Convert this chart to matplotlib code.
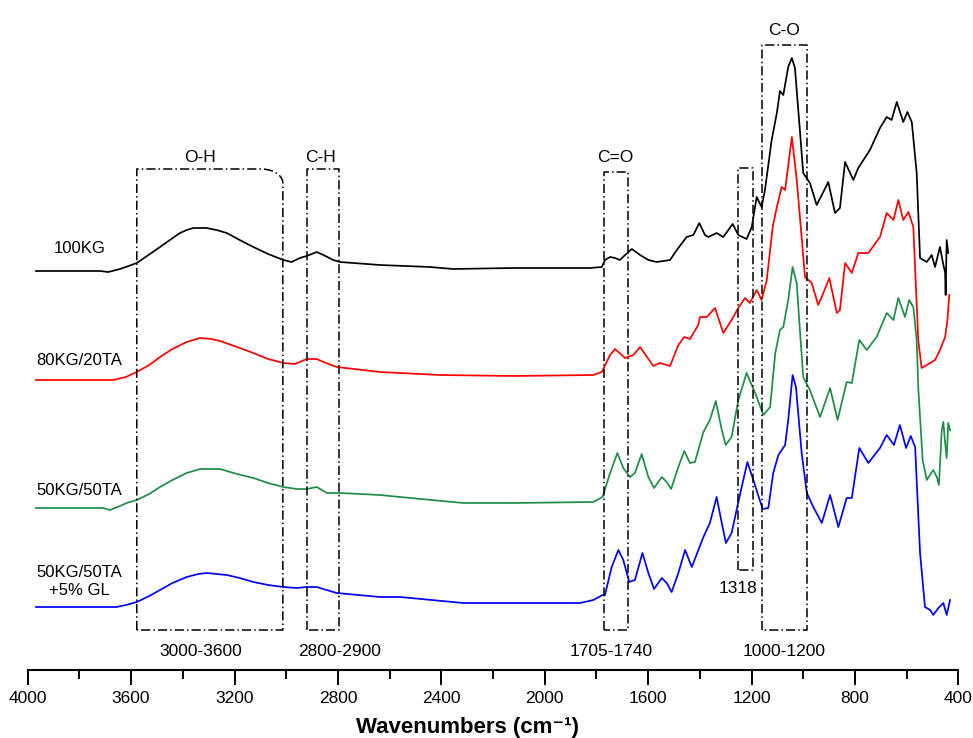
import numpy as np
import matplotlib.pyplot as plt

plt.rcParams['font.family'] = ['Liberation Sans', 'DejaVu Sans']

# FTIR spectra: wavenumber (cm-1) and stacked absorbance (a.u.)
kg100_wn = [3968, 3720, 3688, 3643, 3610, 3578, 3533, 3488, 3450, 3411, 3385, 3359, 3308, 3270,
            3230, 3180, 3127, 3070, 3011, 2979, 2947,
            2921, 2882, 2856, 2818, 2792, 2637, 2444, 2354, 2121, 1889, 1825, 1779, 1767, 1747,
            1728, 1709, 1689, 1663, 1631, 1599, 1567, 1515, 1489, 1451, 1425, 1402, 1380, 1367,
            1335, 1309, 1273, 1251, 1219, 1199, 1180, 1161, 1148, 1122, 1102, 1090, 1077, 1058,
            1044, 1032, 1012, 1000, 974, 948, 928, 903, 877, 858, 838, 806, 787, 742, 703, 677,
            658, 638, 613, 597, 580, 561, 548, 522, 503, 490, 471, 460, 451, 449, 445, 439]
kg100_abs = [399, 399, 398, 401, 404, 407, 415, 423, 430, 437, 440, 442, 442, 440,
             437, 430, 423, 416, 410, 408, 412,
             414, 418, 415, 410, 408, 405, 403, 401, 402, 402, 402, 403, 410, 413,
             412, 410, 415, 421, 415, 410, 408, 410, 420, 433, 435, 447, 435, 433,
             437, 433, 446, 435, 431, 443, 473, 463, 480, 530, 557, 579, 575, 603,
             612, 602, 537, 497, 487, 465, 475, 488, 457, 462, 508, 490, 502, 520, 542, 553,
             550, 568, 548, 558, 548, 497, 412, 408, 415, 403, 423, 408, 397, 375, 430, 417]

kg80_ta20_wn = [3968, 3669, 3620, 3578, 3530, 3488, 3440, 3385, 3333, 3290, 3256, 3190, 3127,
                3070, 3011, 2966, 2921, 2882, 2856,
                2805, 2637, 2560, 2405, 2121, 1812, 1779, 1747, 1728, 1689, 1657, 1631, 1580,
                1554, 1515, 1483, 1460, 1438, 1406, 1399, 1373, 1341, 1309, 1277, 1251, 1225,
                1206, 1180, 1161, 1141, 1118, 1102, 1083, 1070, 1044, 1025, 993, 967, 942, 922,
                899, 870, 858, 838, 812, 787, 748, 703, 677, 651, 632, 613, 593, 574, 555, 542,
                522, 490, 471, 451, 442, 435]
kg80_ta20_abs = [290, 290, 293, 298, 305, 313, 321, 328, 332, 331, 329, 323, 317,
                 311, 307, 306, 311, 311, 308,
                 303, 298, 297, 295, 294, 295, 298, 315, 321, 312, 315, 323, 304,
                 307, 304, 325, 333, 331, 345, 353, 353, 362, 337, 350, 362, 372,
                 367, 380, 370, 390, 443, 463, 483, 480, 533, 490, 393, 387, 365, 377,
                 392, 357, 360, 407, 397, 417, 417, 433, 457, 450, 470, 450, 458, 443, 330, 302,
                 305, 310, 320, 333, 350, 375]

kg50_ta50_wn = [3968, 3708, 3682, 3643, 3617, 3578, 3530, 3488, 3440, 3385, 3333, 3256, 3190,
                3127, 3070, 3011, 2959,
                2921, 2882, 2843, 2792, 2637, 2560, 2315, 2121, 1812, 1776, 1747, 1719, 1696,
                1670, 1651, 1625, 1599, 1577, 1547, 1528, 1511, 1483, 1460, 1438, 1419, 1386,
                1361, 1338, 1315, 1300, 1277, 1251, 1219, 1186, 1154, 1128, 1108, 1090, 1077,
                1058, 1041, 1025, 1012, 1000, 974, 935, 896, 867, 832, 812, 783, 754, 716, 677,
                651, 632, 606, 590, 574, 561, 555, 538, 522, 497, 483, 475, 464, 458, 451, 445,
                439, 432]
kg50_ta50_abs = [162, 162, 160, 164, 167, 170, 176, 183, 190, 197, 201, 201, 196,
                 192, 187, 183, 181,
                 181, 183, 177, 177, 175, 173, 167, 167, 168, 173, 197, 217, 202,
                 193, 197, 216, 193, 182, 193, 188, 181, 203, 219, 207, 208, 238,
                 250, 269, 240, 225, 233, 270, 297, 277, 255, 263, 317, 340, 343,
                 370, 403, 387, 337, 293, 280, 253, 282, 250, 288, 287, 330, 320, 333, 357,
                 350, 372, 353, 370, 363, 330, 283, 210, 190, 200, 193, 185, 240, 248, 227, 212,
                 247, 240]

kg50_ta50_gl_wn = [3968, 3656, 3620, 3578, 3530, 3488, 3440, 3385, 3340, 3308, 3230, 3180, 3127,
                   3070, 3011, 2959, 2921, 2882, 2805,
                   2637, 2560, 2315, 1863, 1812, 1776, 1767, 1741, 1715, 1696, 1673, 1651, 1622,
                   1599, 1577, 1547, 1528, 1509, 1483, 1457, 1431, 1386, 1361, 1335, 1315, 1299,
                   1277, 1251, 1216, 1193, 1157, 1135, 1116, 1096, 1070, 1058, 1041, 1028, 1006,
                   986, 961, 928, 896, 864, 832, 812, 783, 748, 703, 677, 649, 626, 602, 584, 567,
                   548, 529, 509, 497, 477, 458, 445, 432]
kg50_ta50_gl_abs = [63, 63, 65, 68, 74, 80, 87, 93, 96, 97, 95, 92, 88,
                    85, 83, 82, 83, 83, 77,
                    73, 73, 67, 67, 70, 75, 75, 103, 120, 110, 88, 90, 117,
                    97, 81, 92, 87, 78, 97, 120, 103, 133, 147, 173, 147, 127,
                    137, 168, 208, 190, 161, 162, 197, 215, 225, 250, 295, 283, 217,
                    177, 163, 147, 175, 143, 172, 172, 222, 207, 222, 235, 225, 245, 222, 234, 223,
                    117, 63, 60, 55, 62, 67, 55, 70]

sample_names = ['100KG', '80KG/20TA', '50KG/50TA', '50KG/50TA\n+5% GL']
sample_colors = ['black', '#ff0000', '#1f8c48', '#0000ff']
label_heights = [422, 310, 180, 89]

# marked bands: (left wn, right wn, bottom, top), top label, bottom label
band_edges = [(3578, 3013, 40, 501), (2921, 2795, 40, 501), (1771, 1679, 40, 498),
              (1253, 1195, 100, 502), (1158, 986, 40, 625)]
band_names = ['O-H', 'C-H', 'C=O', '', 'C-O']
band_ranges = ['3000-3600', '2800-2900', '1705-1740', '1318', '1000-1200']
band_name_pos = [(3333, 513), (2869, 513), (1728, 513), None, (1074, 640)]
band_range_pos = [(3329, 19), (2795, 19), (1741, 19), (1251, 82), (1073, 19)]


def draw_band(ax, x0, x1, y0, y1, rounded=False):
    ls = (0, (6, 2, 1, 2))
    if rounded:
        rx, ry = 85, 14
        t = np.linspace(0, np.pi / 2, 20)
        arc_x = (x1 + rx) - rx * np.sin(t)
        arc_y = (y1 - ry) + ry * np.cos(t)
        xs = np.concatenate([[x0, x0], arc_x, [x1, x0]])
        ys = np.concatenate([[y0, y1], arc_y, [y0, y0]])
    else:
        xs = [x0, x0, x1, x1, x0]
        ys = [y0, y1, y1, y0, y0]
    ax.plot(xs, ys, color='black', lw=1.1, ls=ls)


fig = plt.figure(figsize=(9.73, 7.38), dpi=100)
ax = fig.add_axes([0.02847, 0.09214, 0.95643, 0.90786])

spectra = [(kg100_wn, kg100_abs), (kg80_ta20_wn, kg80_ta20_abs),
           (kg50_ta50_wn, kg50_ta50_abs), (kg50_ta50_gl_wn, kg50_ta50_gl_abs)]
for (wn, ab), color in zip(spectra, sample_colors):
    ax.plot(wn, ab, color=color, lw=1.25)

for name, h in zip(sample_names, label_heights):
    ax.text(3800, h, name, ha='center', va='center', fontsize=12, linespacing=1.25)

for i, (x0, x1, y0, y1) in enumerate(band_edges):
    draw_band(ax, x0, x1, y0, y1, rounded=(i == 0))
    if band_name_pos[i] is not None:
        ax.text(*band_name_pos[i], band_names[i], ha='center', va='center', fontsize=12.5)
    ax.text(*band_range_pos[i], band_ranges[i], ha='center', va='center', fontsize=12.5)

ax.set_xlim(4000, 400)
ax.set_ylim(0, 670)
ax.set_xticks(np.arange(4000, 399, -400))
ax.set_xticks(np.arange(3800, 400, -400), minor=True)
ax.tick_params(axis='x', which='major', length=10.8, width=1.4, labelsize=12.5, pad=4)
ax.tick_params(axis='x', which='minor', length=6.7, width=1.4)
ax.set_yticks([])
for side in ['left', 'right', 'top']:
    ax.spines[side].set_visible(False)
ax.spines['bottom'].set_linewidth(1.5)

fig.text(468 / 973, 11 / 738, 'Wavenumbers (cm\u207b\u00b9)', ha='center', va='center',
         fontsize=16, fontweight='bold')

plt.savefig('out.png', dpi=100)
